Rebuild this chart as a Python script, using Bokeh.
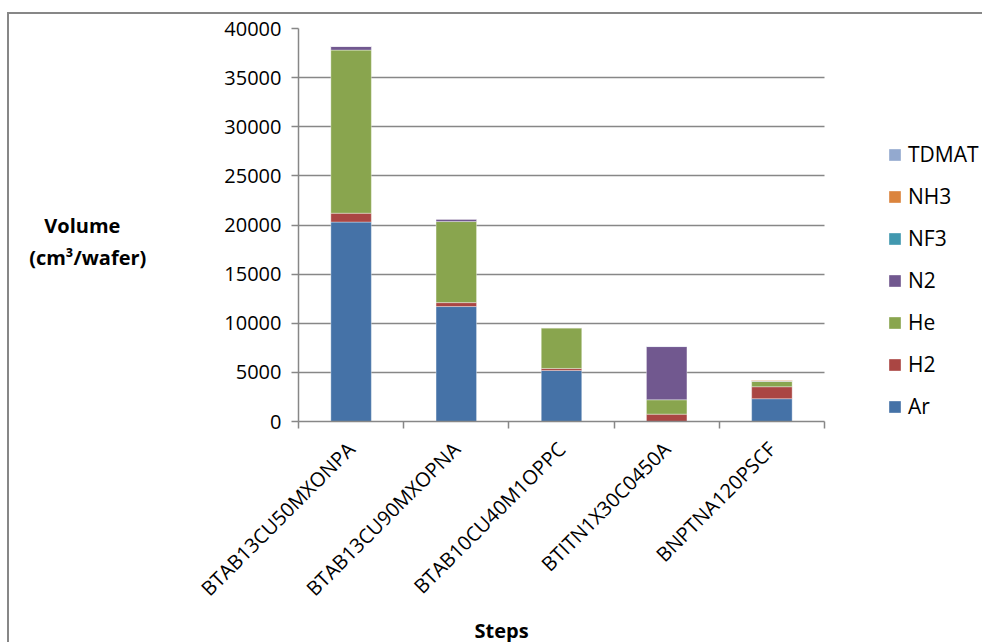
from bokeh.plotting import figure
from bokeh.models import (Range1d, LinearAxis, FixedTicker, Legend, LegendItem,
                          ColumnDataSource, Title)
from bokeh.embed import file_html
from bokeh.resources import INLINE

steps = ["BTAB13CU50MXONPA", "BTAB13CU90MXOPNA", "BTAB10CU40M1OPPC", "BTITN1X30C0450A", "BNPTNA120PSCF"]
gases = ["Ar", "H2", "He", "N2", "NF3", "NH3", "TDMAT"]
Ar = [20300, 11700, 5200, 0, 2320]
H2 = [900, 400, 200, 750, 1220]
He = [16600, 8250, 4150, 1460, 550]
N2 = [400, 270, 0, 5420, 50]
NF3 = [0, 0, 0, 0, 0]
NH3 = [0, 0, 0, 0, 80]
TDMAT = [0, 0, 0, 40, 0]
colors = ["#4572A7", "#AA4643", "#89A54E", "#71588F", "#4198AF", "#DB843D", "#93A9CF"]
y_ticks = [0, 5000, 10000, 15000, 20000, 25000, 30000, 35000, 40000]

n = len(steps)
xpos = [i + 0.5 for i in range(n)]  # category slot centres
data = dict(x=xpos, step=steps, Ar=Ar, H2=H2, He=He, N2=N2, NF3=NF3, NH3=NH3, TDMAT=TDMAT)
src = ColumnDataSource(data)

FONT = "Open Sans"
GRID = "#878787"
NB = "\u00a0"

# plot area 526 px for the categories; frame extends further right to host the legend
FRAME_W, CAT_W = 686, 526
x_end = n * FRAME_W / CAT_W

p = figure(x_range=Range1d(0, x_end), y_range=Range1d(0, 40000),
           width=975, height=630, output_backend="svg", toolbar_location=None,
           x_axis_location=None, y_axis_location="left",
           min_border_left=289, min_border_right=0, min_border_top=14, min_border_bottom=223,
           styles={"margin-left": "7px", "margin-top": "12px",
                   "border-left": "2px solid #878787", "border-top": "2px solid #878787"})
p.outline_line_color = None
p.xgrid.visible = False
p.ygrid.grid_line_color = GRID
p.ygrid.grid_line_width = 1.5
p.ygrid.ticker = FixedTicker(ticks=y_ticks)
if "cross_bounds" in p.ygrid[0].properties():
    p.ygrid[0].cross_bounds = (0, n)

ya = p.yaxis[0]
ya.ticker = FixedTicker(ticks=y_ticks)
ya.axis_line_color = GRID
ya.axis_line_width = 1.5
ya.major_tick_line_color = GRID
ya.major_tick_line_width = 1.5
ya.major_tick_in = 0
ya.major_tick_out = 7
ya.minor_tick_line_color = None
ya.major_label_text_font = FONT
ya.major_label_text_font_size = "20px"
ya.major_label_text_color = "black"
ya.major_label_standoff = 10
ya.axis_label = NB + "\nVolume" + NB * 5 + "\n(cm\u00b3/wafer)"
ya.axis_label_text_font = FONT
ya.axis_label_text_font_size = "20px"
ya.axis_label_text_font_style = "bold"
ya.axis_label_text_color = "black"
ya.axis_label_standoff = 75
if "axis_label_orientation" in ya.properties():
    ya.axis_label_orientation = "horizontal"

renderers = p.vbar_stack(gases, x="x", width=0.385, color=colors, source=src,
                         line_color="white", line_width=0.6, line_alpha=0.6)

# boundary ticks axis
tick_axis = LinearAxis(ticker=FixedTicker(ticks=list(range(n + 1))), bounds=(0, n))
tick_axis.axis_line_color = GRID
tick_axis.axis_line_width = 1.5
tick_axis.major_tick_line_color = GRID
tick_axis.major_tick_line_width = 1.5
tick_axis.major_tick_in = 0
tick_axis.major_tick_out = 7
tick_axis.minor_tick_line_color = None
tick_axis.major_label_text_font_size = "0px"
tick_axis.major_label_standoff = 0
p.add_layout(tick_axis, "below")

# category label axis
lo = -0.5
p.extra_x_ranges = {"labels": Range1d(lo, x_end + lo)}
label_axis = LinearAxis(x_range_name="labels", ticker=FixedTicker(ticks=list(range(n))),
                        major_label_overrides={i: s for i, s in enumerate(steps)})
label_axis.axis_line_color = None
label_axis.major_tick_line_color = None
label_axis.minor_tick_line_color = None
label_axis.major_label_orientation = 0.785
label_axis.major_label_text_font = FONT
label_axis.major_label_text_font_size = "20px"
label_axis.major_label_text_color = "black"
label_axis.major_label_standoff = 11
p.add_layout(label_axis, "below")

p.add_layout(Title(text="Steps", align="left", offset=176, standoff=0,
                   text_font=FONT, text_font_size="20px", text_font_style="bold",
                   text_color="black"), "below")

items = [LegendItem(label=g, renderers=[r]) for g, r in zip(gases, renderers)][::-1]
legend = Legend(items=items, location=(589, 0), orientation="vertical")
legend.padding = 0
legend.margin = 0
legend.border_line_color = None
legend.background_fill_alpha = 0
legend.glyph_width = 15
legend.glyph_height = 15
legend.label_height = 30
legend.spacing = 12
legend.label_standoff = 6
legend.label_text_font = FONT
legend.label_text_font_size = "21px"
legend.label_text_color = "black"
p.add_layout(legend, "center")

open("out.html", "w").write(file_html(p, INLINE))
